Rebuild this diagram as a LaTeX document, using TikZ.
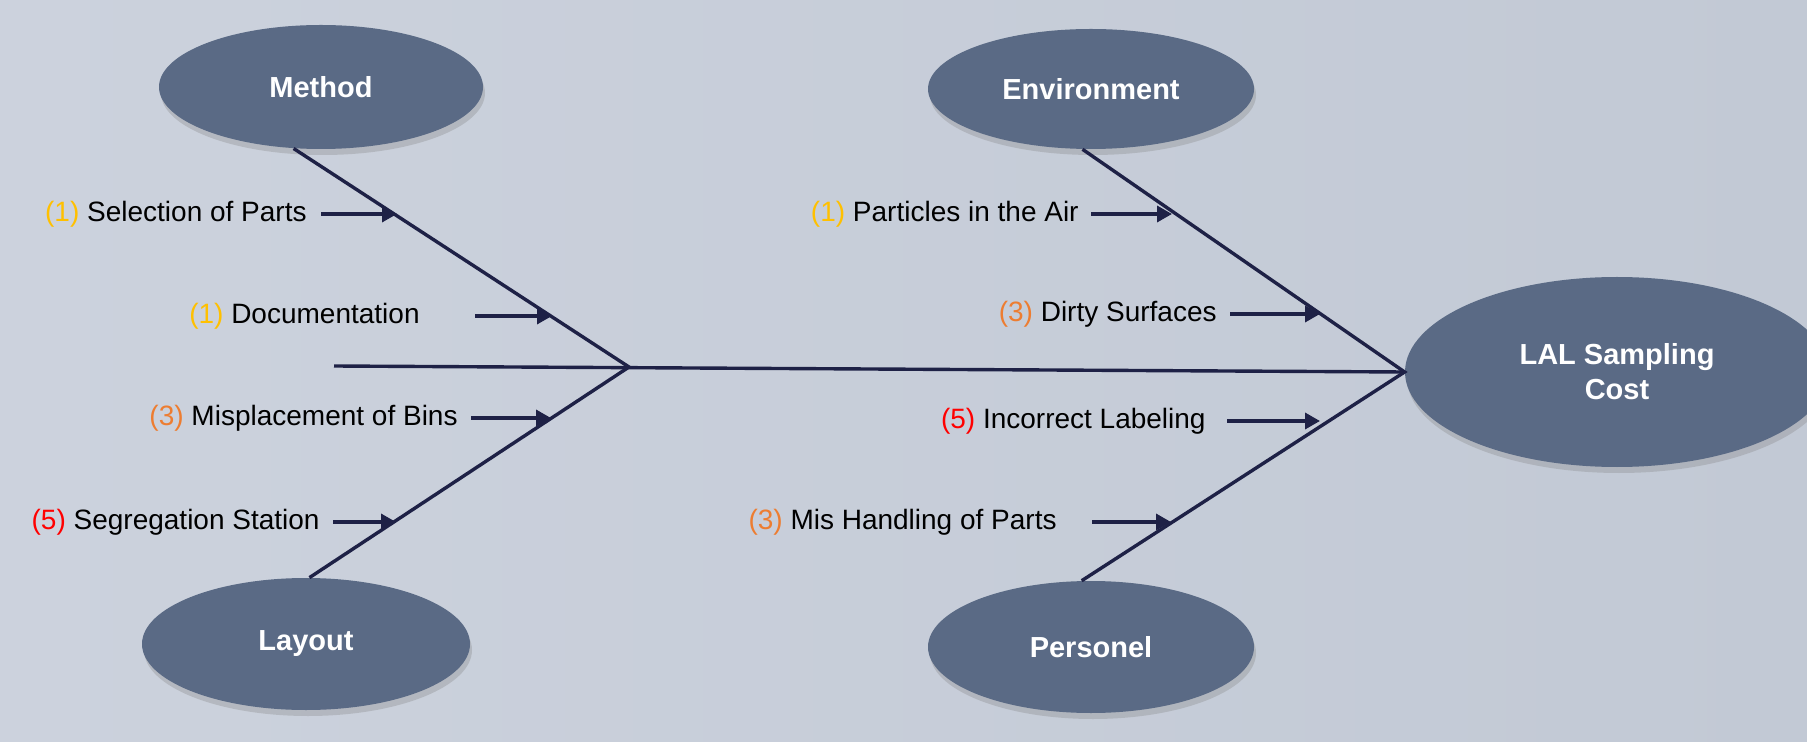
\documentclass[tikz,border=0pt]{standalone}
\usepackage{fontspec}
\setmainfont{Liberation Sans}
\usetikzlibrary{positioning,shapes.geometric,shadows,arrows.meta}
\definecolor{bgleft}{HTML}{CCD2DD}
\definecolor{bgright}{HTML}{C2C9D5}
\definecolor{bonecol}{HTML}{1E2146}
\definecolor{ellcol}{HTML}{5A6A85}
\definecolor{n1}{HTML}{FFC000}
\definecolor{n3}{HTML}{ED7D31}
\definecolor{n5}{HTML}{FF0000}
\begin{document}
\begin{tikzpicture}
[x=0.5pt, y=-0.5pt,
  ellipsedecorate/.style={shape=ellipse,fill=ellcol,inner sep=0pt,text=white,%
    font=\fontsize{14.5}{17.5}\selectfont\bfseries,align=center,%
    drop shadow={shadow xshift=1pt,shadow yshift=-3pt,opacity=0.3}},
  bonedecorate/.style={-,line width=1.7pt,draw=bonecol},
  arrowdecorate/.style={-{Triangle[length=7.5pt,width=8pt]},line width=1.7pt,draw=bonecol},
  causedecorate/.style={inner sep=0pt,font=\fontsize{14}{17}\selectfont}]
\clip (0,0) rectangle (1807,742);
\fill[left color=bgleft, right color=bgright] (0,0) rectangle (1807,742);
%% categories and effect
\foreach \nodename/\x/\y/\w/\h/\txt in {method/321/87/162pt/62pt/Method,
  layout/306/644/164pt/66pt/Layout, environment/1091/89/163pt/60pt/Environment,
  personel/1091/647/163pt/66pt/Personel}
{
  \node (\nodename) at (\x,\y) [ellipsedecorate,minimum width=\w,minimum height=\h] {\txt};
}
\node (lal) at (1617,372) [ellipsedecorate,minimum width=212pt,minimum height=95pt]
  {LAL Sampling\\Cost};
%% bones
\coordinate (tail) at (334,366);
\coordinate (joint) at (629,367);
\draw[bonedecorate] (tail) -- (lal.west);
\draw[bonedecorate] (method.246) -- (joint) -- (layout.87);
\draw[bonedecorate] (environment.262) -- (lal.west) -- (personel.98);
%% causes
\foreach \nodename/\num/\txt/\tx/\hx/\y/\gap in {sel/1/Selection of Parts/321/397/214/7pt,
  doc/1/Documentation/475/552/316/27.5pt, mis/3/Misplacement of Bins/471/551/418/6.5pt,
  seg/5/Segregation Station/333/396/522/6.5pt, par/1/Particles in the Air/1091/1172/214/6pt,
  dir/3/Dirty Surfaces/1230/1320/314/6.5pt, inc/5/Incorrect Labeling/1227/1320/421/10.5pt,
  han/3/Mis Handling of Parts/1092/1171/522/17.5pt}
{
  \coordinate (\nodename tail) at (\tx,\y);
  \coordinate (\nodename tip) at (\hx,\y);
  \node (\nodename) [causedecorate,left=\gap of \nodename tail]
    {\textcolor{n\num}{(\num)} \txt};
  \draw[arrowdecorate] (\nodename tail) -- (\nodename tip);
}
\end{tikzpicture}
\end{document}
